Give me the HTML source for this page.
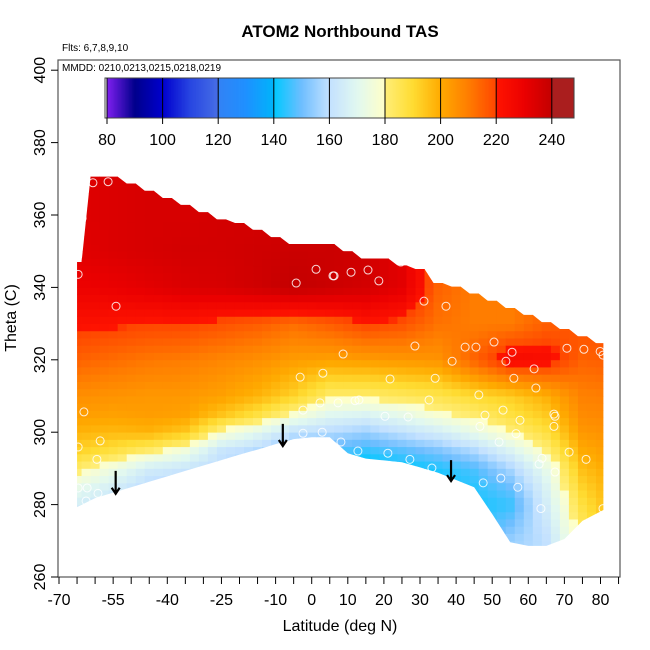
<!DOCTYPE html>
<html><head><meta charset="utf-8">
<style>
body{margin:0;background:#fff;}
svg{display:block;font-family:"Liberation Sans",sans-serif;}
</style></head>
<body>
<svg id="chart" width="650" height="650" viewBox="0 0 650 650">
  <defs><clipPath id="dataClip"><polygon id="clipPoly" points=""/></clipPath></defs>
  <text x="340" y="37" font-size="17" font-weight="bold" text-anchor="middle">ATOM2 Northbound TAS</text>
  <text x="62" y="51" font-size="10">Flts: 6,7,8,9,10</text>
  <g id="heat" clip-path="url(#dataClip)"></g>
  <g id="points"></g>
  <g id="arrows"></g>
  <rect x="58" y="60" width="562" height="517" fill="none" stroke="#555" stroke-width="1.2"/>
  <text x="62" y="71" font-size="10">MMDD: 0210,0213,0215,0218,0219</text>
  <g id="cbar"></g>
  <g id="xaxis"></g>
  <g id="yaxis"></g>
  <text x="340" y="631" font-size="16" text-anchor="middle">Latitude (deg N)</text>
  <text transform="translate(16,318) rotate(-90)" font-size="16" text-anchor="middle">Theta (C)</text>
</svg>
<script>
const boundLats = [-65,-60,-55,-50,-45,-40,-35,-30,-25,-20,-15,-10,-5,0,5,10,15,20,25,30,35,40,45,50,55,60,65,70,75,80];
const topTheta = [347,370.6,370.6,368.7,366.7,364.7,362.8,360.8,358.8,357.8,355.9,353.9,352.0,352.0,352.0,350.0,348.0,348.0,346.1,345.1,341.2,340.2,338.3,336.3,334.3,332.4,330.4,328.5,326.5,324.6];
const bottomTheta = [279.3,281.8,283.3,284.8,286.3,287.8,289.3,290.8,292.3,293.8,295.2,296.7,298.1,298.6,298.6,294.2,292.7,292.2,291.7,290.3,288.8,286.8,284.8,277.4,269.6,268.6,268.6,270.5,275.5,278.5];
const gridLats = [-65,-55,-45,-35,-25,-15,-5,5,15,25,35,45,55,65,75,85];
const thetaLevels = [270,280,285,290,295,300,305,310,320,330,340,350,360,370];
const tasLatM65 = [160,165,172,182,192,198,203,206,215,222,229,232,233,233];
const tasLatM55 = [155,160,166,174,188,197,202,205,213,221,230,234,234,234];
const tasLatM45 = [152,155,158,165,182,198,203,204,211,220,232,235,235,235];
const tasLatM35 = [150,153,156,162,175,194,202,204,210,220,234,236,235,235];
const tasLatM25 = [150,152,155,158,162,178,195,202,208,218,235,236,236,236];
const tasLatM15 = [150,150,152,155,158,170,188,198,206,216,237,237,236,236];
const tasLatM5 = [150,150,150,150,150,160,178,192,203,213,240,238,236,236];
const tasLat5 = [140,140,140,142,148,158,170,182,202,216,238,238,237,237];
const tasLat15 = [135,135,136,137,145,155,168,182,203,220,236,237,237,237];
const tasLat25 = [138,138,139,140,148,160,172,184,204,218,232,232,232,232];
const tasLat35 = [140,140,141,143,152,165,178,186,205,212,215,215,215,215];
const tasLat45 = [145,142,144,147,158,172,182,190,215,210,210,210,210,210];
const tasLat55 = [155,145,150,157,168,180,188,193,225,210,210,210,210,210];
const tasLat65 = [160,165,168,172,180,188,194,199,224,215,215,215,215,215];
const tasLat75 = [182,188,192,196,200,204,207,209,215,218,218,218,218,218];
const tasLat85 = [200,200,201,202,204,206,208,210,216,218,218,218,218,218];
const tasGrid = [tasLatM65,tasLatM55,tasLatM45,tasLatM35,tasLatM25,tasLatM15,tasLatM5,tasLat5,tasLat15,tasLat25,tasLat35,tasLat45,tasLat55,tasLat65,tasLat75,tasLat85];
const pointLats = [-60.6,-56.4,-63.6,-64.7,-54.2,-63.1,-58.6,-64.7,-59.5,-64.7,-62.2,-59.2,-62.5,-3.2,3.1,-2.4,2.3,-2.4,2.9,1.2,-4.3,5.9,6.2,10.9,15.6,18.6,24.7,31.1,37.2,8.7,28.6,42.5,45.5,50.5,55.5,53.8,38.9,61.6,70.7,75.4,79.9,80.7,21.7,34.2,56.0,62.1,46.3,7.3,13.1,12.0,32.5,67.1,67.4,48.0,53.0,20.3,26.7,57.7,46.6,67.1,56.6,51.9,8.1,12.8,21.1,27.2,33.3,47.5,52.4,57.1,63.0,63.8,71.3,76.0,67.4,63.5,80.7,72.4];
const pointThetas = [368.9,369.2,359.1,343.6,334.8,305.6,297.6,295.9,292.5,284.6,284.6,283.1,281.0,315.2,316.3,306.1,308.1,299.7,300.0,345.0,341.2,343.2,343.2,344.2,344.8,341.8,347.0,336.2,334.8,321.6,323.8,323.5,323.5,324.9,322.1,319.6,319.6,317.5,323.2,322.9,322.3,321.3,314.7,314.9,314.9,312.2,310.3,308.1,308.9,308.7,308.9,305.0,304.4,304.7,306.1,304.4,304.2,303.3,301.6,301.6,299.6,297.3,297.3,294.8,294.2,292.5,290.1,286.0,287.3,284.8,291.2,292.8,294.5,292.5,289.0,278.9,278.9,268.0];
const arrowLats = [-54.3,-8,38.6];
const arrowTops = [289.3,302.3,292.3];
const arrowBottoms = [283.0,296.2,286.5];
const xTicks = [-70,-65,-60,-55,-50,-45,-40,-35,-30,-25,-20,-15,-10,-5,0,5,10,15,20,25,30,35,40,45,50,55,60,65,70,75,80,85];
const xLabels = [-70,-55,-40,-25,-10,0,10,20,30,40,50,60,70,80];
const yTicks = [260,280,300,320,340,360,380,400];
const cbarTicks = [80,100,120,140,160,180,200,220,240];

const NS='http://www.w3.org/2000/svg';
const X = lat => 59 + (lat + 70) * 3.61;
const Y = th => 577 - (th - 260) * 3.62;
const CB = v => 107 + (v - 80) * 2.78;
function mk(tag, attrs, parent){const e=document.createElementNS(NS,tag);for(const k in attrs)e.setAttribute(k,attrs[k]);parent.appendChild(e);return e;}

const stops=[[80,[127,31,239]],[90,[0,0,139]],[100,[0,0,205]],[110,[40,70,225]],[119.9,[70,110,230]],[120,[50,130,245]],[130,[30,144,255]],[140,[0,180,250]],[140.1,[0,200,255]],[150,[110,190,255]],[160,[195,225,255]],[170,[225,248,240]],[179.9,[255,255,200]],[180,[255,238,120]],[190,[255,220,50]],[200,[255,170,0]],[210,[255,125,0]],[219.9,[255,70,0]],[220,[255,20,0]],[230,[235,0,0]],[240,[195,0,0]],[240.1,[170,30,30]],[250,[170,30,30]]];
function color(v){
  if(v<=stops[0][0])return 'rgb('+stops[0][1]+')';
  for(let i=1;i<stops.length;i++){if(v<=stops[i][0]){const a=stops[i-1],b=stops[i];const t=(v-a[0])/(b[0]-a[0]);const c=a[1].map((q,j)=>Math.round(q+(b[1][j]-q)*t));return 'rgb('+c.join(',')+')';}}
  return 'rgb('+stops[stops.length-1][1]+')';
}
function interp1(xs,ys,x){if(x<=xs[0])return ys[0];for(let i=1;i<xs.length;i++){if(x<=xs[i]){const t=(x-xs[i-1])/(xs[i]-xs[i-1]);return ys[i-1]+(ys[i]-ys[i-1])*t;}}return ys[ys.length-1];}
function tas(lat,th){const col=tasGrid.map(r=>interp1(thetaLevels,r,th));return interp1(gridLats,col,lat);}

// clip polygon
const pts=[];
const n=boundLats.length;
boundLats.forEach((l,i)=>{
  const x0=i===0?X(l):X(l-1.25), x1=i===n-1?X(l+0.8):X(l+1.25);
  pts.push(x0+','+Y(topTheta[i]));pts.push(x1+','+Y(topTheta[i]));
});
for(let i=n-1;i>=0;i--)pts.push(X(boundLats[i]+(i===n-1?0.8:0))+','+Y(bottomTheta[i]));
document.getElementById('clipPoly').setAttribute('points',pts.join(' '));

const heat=document.getElementById('heat');
for(let lat=-66.25;lat<81.25;lat+=2.5){
  for(let th=264;th<372;th+=2){
    const r=mk('rect',{x:X(lat).toFixed(2),y:Y(th+2).toFixed(2),width:(2.5*3.61+0.4).toFixed(2),height:(2*3.62+0.4).toFixed(2),fill:color(tas(lat+1.25,th+1))},heat);
    
    
  }
}
const pg=document.getElementById('points');
pointLats.forEach((l,i)=>{
  const c=mk('circle',{cx:X(l),cy:Y(pointThetas[i]),r:4,fill:'none',stroke:'#fff','stroke-width':1,opacity:0.85},pg);
  
  
});
const ag=document.getElementById('arrows');
arrowLats.forEach((l,i)=>{
  const x=X(l),y1=Y(arrowTops[i]),y2=Y(arrowBottoms[i]);
  const p=mk('path',{d:`M${x},${y1}L${x},${y2}M${x-4},${y2-6}L${x},${y2}L${x+4},${y2-6}`,stroke:'#000','stroke-width':2.2,fill:'none'},ag);
  
  
});
// colorbar
const cb=document.getElementById('cbar');
for(let v=80;v<248;v+=0.5){
  const r=mk('rect',{x:CB(v).toFixed(2),y:78,width:1.8,height:40,fill:color(v+0.25)},cb);
  
  
}
mk('rect',{x:105,y:78,width:CB(248)-105,height:40,fill:'none',stroke:'#444','stroke-width':1},cb);
cbarTicks.forEach(v=>{
  mk('line',{x1:CB(v),x2:CB(v),y1:78,y2:124,stroke:'#000','stroke-width':1},cb);
  const t=mk('text',{x:CB(v),y:145,'font-size':16,'text-anchor':'middle'},cb);
  t.textContent=v;
  
  
});
// axes
const xa=document.getElementById('xaxis');
xTicks.forEach(v=>mk('line',{x1:X(v),x2:X(v),y1:577,y2:584,stroke:'#000','stroke-width':1},xa));
xLabels.forEach(v=>{
  const t=mk('text',{x:X(v),y:605,'font-size':16,'text-anchor':'middle'},xa);
  t.textContent=v;
  
  
});
const ya=document.getElementById('yaxis');
yTicks.forEach(v=>{
  mk('line',{x1:51,x2:58,y1:Y(v),y2:Y(v),stroke:'#000','stroke-width':1},ya);
  const t=mk('text',{transform:`translate(45,${Y(v)}) rotate(-90)`,'font-size':16,'text-anchor':'middle'},ya);
  t.textContent=v;
  
  
});
</script>
</body></html>
